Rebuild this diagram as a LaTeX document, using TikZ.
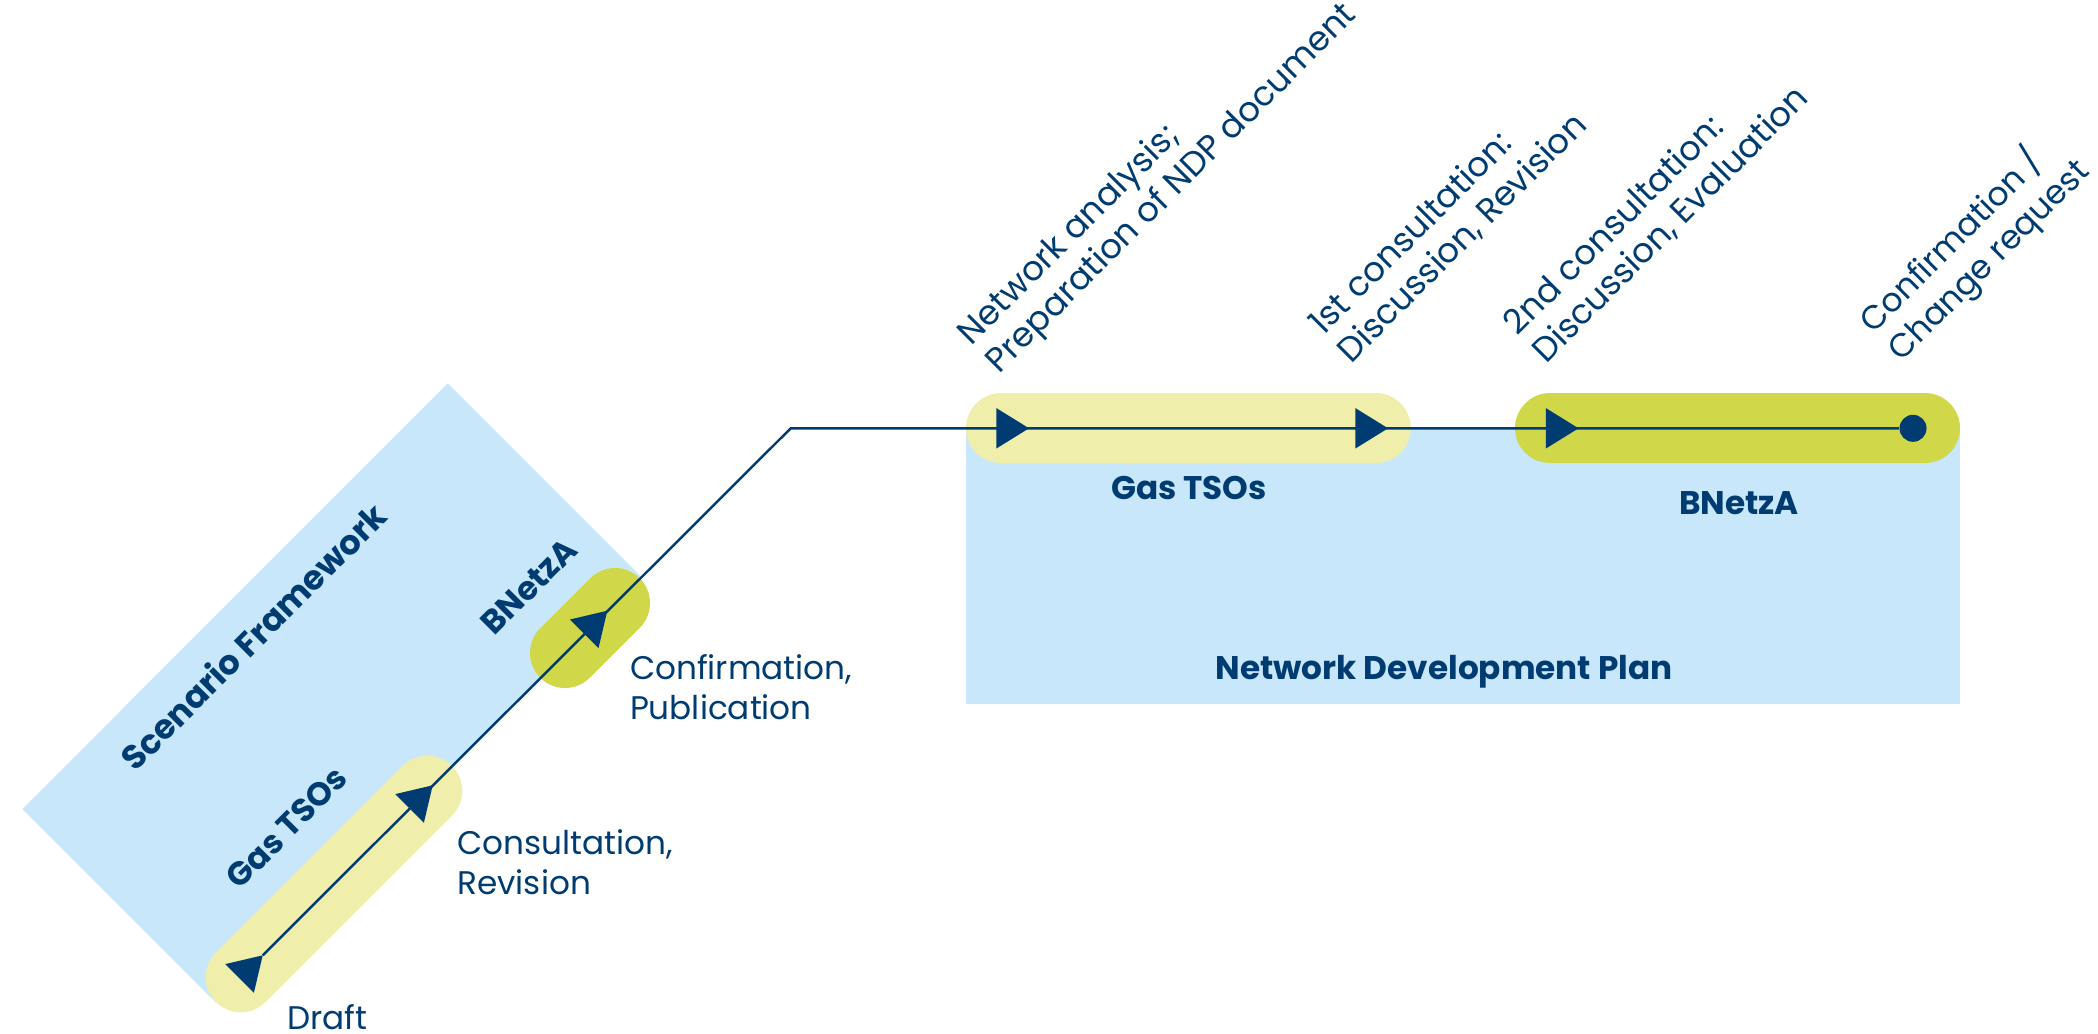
\documentclass[tikz,border=0pt]{standalone}
\usepackage{fontspec}
\setmainfont{Poppins}
\usetikzlibrary{positioning}
\definecolor{navy}{RGB}{0,60,113}
\definecolor{skyblue}{RGB}{201,231,250}
\definecolor{paleyel}{RGB}{239,239,171}
\definecolor{limegr}{RGB}{208,216,74}

\begin{document}
\begin{tikzpicture}[x=0.01cm,y=-0.01cm,
    flow/.style={draw=navy,line width=0.7pt},%
    band/.style={line width=0.7cm,line cap=round},%
    lbl/.style={text=navy,inner sep=0pt,align=left,font=\fontsize{9.3}{11.2}\selectfont},%
    slant/.style={lbl,rotate=45,anchor=base west,font=\fontsize{9.7}{11.3}\selectfont},%
    role/.style={text=navy,inner sep=0pt,font=\bfseries\fontsize{9.3}{11}\selectfont},%
    dot/.style={circle,fill=navy,inner sep=0pt,minimum size=0.27cm},%
    tri/.pic={\fill[navy] (0,0)--(-32.7,20.25)--(-32.7,-20.25)--cycle;}]
    \useasboundingbox (0,0) rectangle (2098,1033);

    \fill[skyblue] (447.7,383.3)--(641.2,576.8)--(215.6,1002.3)--(22.3,809)--cycle;
    \fill[skyblue] (966,428.3) rectangle (1960,703.8);

    \draw[band,paleyel] (240.7,977.3)--(427.3,790.7);
    \draw[band,limegr] (565,653)--(615,603);
    \draw[band,paleyel] (1001,428.3)--(1375.7,428.3);
    \draw[band,limegr] (1550,428.3)--(1925,428.3);

    \coordinate (start) at (262.7,955.3);
    \coordinate (bend) at (790.7,428.3);
    \node[dot] (finish) at (1913,428.3) {};
    \draw[flow] (start)--(bend)--(finish);

    \pic[rotate=45] at (start) {tri};
    \pic[rotate=45] at (432.7,785.3) {tri};
    \pic[rotate=45] at (607.3,610.7) {tri};
    \pic at (1029,428.3) {tri};
    \pic at (1388,428.3) {tri};
    \pic at (1578.5,428.3) {tri};

    \node[role,rotate=45,font=\bfseries\fontsize{9.6}{11}\selectfont] (sf) at (253,636.4) {Scenario Framework};
    \node[role,rotate=45] (tsoA) at (286.7,827.5) {Gas TSOs};
    \node[role,rotate=45] (bnaA) at (529,586.5) {BNetzA};
    \node[role,anchor=base] (tsoB) at (1189,499) {Gas TSOs};
    \node[role,anchor=base] (bnaB) at (1739,514) {BNetzA};
    \node[role,anchor=base] (ndp) at (1444,679) {Network Development Plan};

    \node[lbl,anchor=base west] (draft) at (286.7,1029) {Draft};
    \node[lbl,anchor=base west] (cons) at (456.7,894) {Consultation,\\Revision};
    \node[lbl,anchor=base west] (conf) at (629.3,719.3) {Confirmation,\\Publication};

    \node[slant] (nwa) at (999.3,375) {Network analysis;\\Preparation of NDP document};
    \node[slant] (cA) at (1350.7,365) {1st consultation:\\Discussion, Revision};
    \node[slant] (cB) at (1545.5,365) {2nd consultation:\\Discussion, Evaluation};
    \node[slant,font=\fontsize{9.4}{11.3}\selectfont] (chg) at (1900.8,363.3) {Confirmation /\\Change request};
\end{tikzpicture}
\end{document}
